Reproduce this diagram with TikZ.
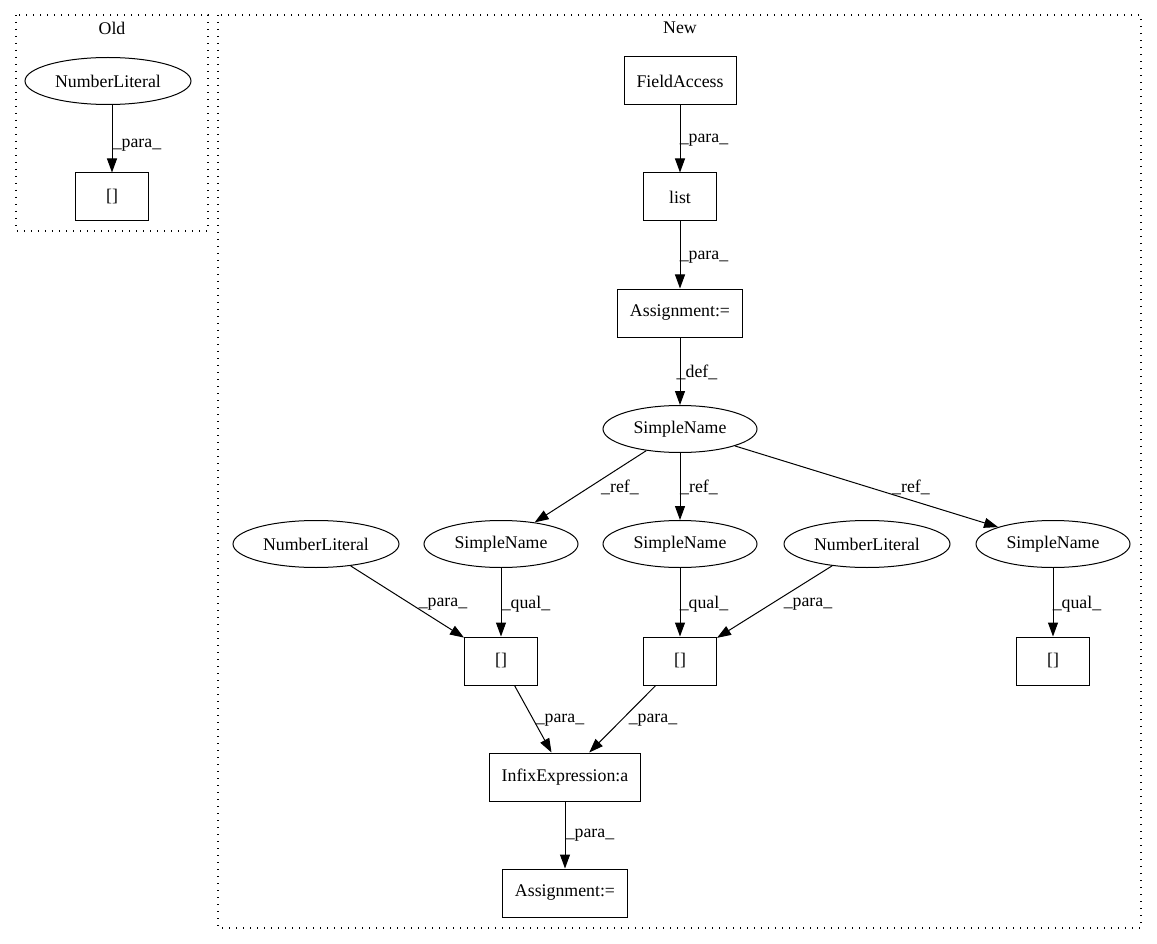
\documentclass[tikz,border=0pt]{standalone}
\usepackage{fontspec}
\setmainfont{Liberation Serif}
\usetikzlibrary{shapes.geometric,arrows.meta}

\begin{document}
\begin{tikzpicture}[x=1pt, y=-1pt,
    every node/.style={font=\fontsize{17.8pt}{21pt}\selectfont},
    box/.style={rectangle, draw, line width=1pt, minimum width=73pt, minimum height=48pt, inner xsep=12.5pt},
    sname/.style={ellipse, draw, line width=1pt, minimum width=154pt, minimum height=47pt, inner sep=1pt},
    nlit/.style={sname, minimum width=166pt},
    lbl/.style={inner sep=0pt},
    link/.style={->, line width=1pt},
    cluster/.style={draw, line width=1.2pt, dash pattern=on 1.3pt off 5.7pt},
    >={Triangle[length=14pt,width=10pt]}]
            \useasboundingbox (0,0) rectangle (1157,944);
            % Clusters
            \draw[cluster] (16,15) rectangle (208,231);
            \node (oldtitle) at (112,28) {Old};
            \draw[cluster] (218,15) rectangle (1141,928);
            \node (newtitle) at (680,28) {New};
            % Nodes
            \node[nlit] (oldnum) at (108,81) {NumberLiteral};
            \node[box] (oldidx) at (112,197) {[]};
            \node[box] (field) at (680,81) {FieldAccess};
            \node[box] (lst) at (680,197) {list};
            \node[box] (asg1) at (680,313) {Assignment:=};
            \node[sname] (sn0) at (680,429) {SimpleName};
            \node[nlit] (num1) at (316,544) {NumberLiteral};
            \node[sname] (sn1) at (501,544) {SimpleName};
            \node[sname] (sn2) at (680,544) {SimpleName};
            \node[nlit] (num2) at (867,544) {NumberLiteral};
            \node[sname] (sn3) at (1053,544) {SimpleName};
            \node[box] (idx1) at (501,661) {[]};
            \node[box] (idx2) at (680,661) {[]};
            \node[box] (idx3) at (1053,661) {[]};
            \node[box] (infix) at (565,777) {InfixExpression:a};
            \node[box] (asg2) at (565,893) {Assignment:=};
            % Edges
            \draw[link] (oldnum.south -| oldidx) -- (oldidx) node[lbl] at (137,145) {\_para\_};
            \draw[link] (field) -- (lst) node[lbl] at (704,140) {\_para\_};
            \draw[link] (lst) -- (asg1) node[lbl] at (704,257) {\_para\_};
            \draw[link] (asg1) -- (sn0) node[lbl] at (697,372) {\_def\_};
            \draw[link] (sn0) -- (sn1) node[lbl] at (620,487) {\_ref\_};
            \draw[link] (sn0) -- (sn2) node[lbl] at (699,487) {\_ref\_};
            \draw[link] (sn0) -- (sn3) node[lbl] at (911,487) {\_ref\_};
            \draw[link] (num1) -- (idx1) node[lbl] at (443,604) {\_para\_};
            \draw[link] (sn1) -- (idx1) node[lbl] at (526,604) {\_qual\_};
            \draw[link] (sn2) -- (idx2) node[lbl] at (704,604) {\_qual\_};
            \draw[link] (num2) -- (idx2) node[lbl] at (808,604) {\_para\_};
            \draw[link] (sn3) -- (idx3) node[lbl] at (1077,604) {\_qual\_};
            \draw[link] (idx1) -- (infix) node[lbl] at (560,720) {\_para\_};
            \draw[link] (idx2) -- (infix) node[lbl] at (653,720) {\_para\_};
            \draw[link] (infix) -- (asg2) node[lbl] at (590,835) {\_para\_};
\end{tikzpicture}
\end{document}
